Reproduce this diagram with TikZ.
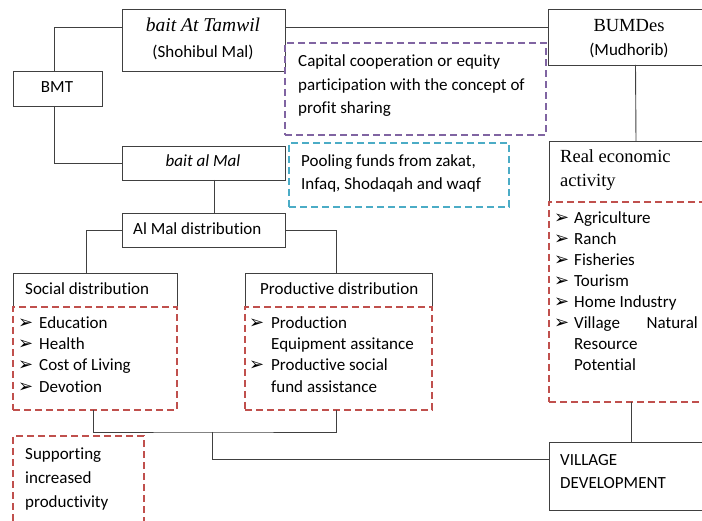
\documentclass[tikz,border=0pt]{standalone}
\usepackage{fontspec}
\setmainfont{Carlito}[Ligatures=NoCommon]
\newfontfamily\tnr{Liberation Serif}
\newfontfamily\djv{DejaVu Sans}
\definecolor{lnc}{RGB}{64,64,64}
\definecolor{dred}{RGB}{192,80,77}
\definecolor{dpur}{RGB}{128,100,162}
\definecolor{dcyan}{RGB}{75,172,198}
\begin{document}
\begin{tikzpicture}[x=1pt,y=-1pt,
  box/.style={draw=lnc,line width=0.9pt,rectangle,inner sep=0pt,outer sep=0pt,anchor=north west},
  frame/.style={rectangle,inner sep=0pt,outer sep=0pt,anchor=north west},
  dbox/.style={line width=1.4pt,dash pattern=on 7pt off 4pt,rectangle,inner sep=0pt,outer sep=0pt,anchor=north west},
  conn/.style={draw=lnc,line width=0.9pt},
  txt/.style={inner sep=0pt,anchor=base west,font=\fontsize{17}{20}\selectfont},
  ctxt/.style={inner sep=0pt,anchor=base,font=\fontsize{17}{20}\selectfont},
  serif/.style={inner sep=0pt,font=\tnr\fontsize{18.5}{22}\selectfont},
  bul/.style={inner sep=0pt,anchor=base west,font=\djv\bfseries\fontsize{18}{20}\selectfont}]
\useasboundingbox (0,0) rectangle (702,521);
\clip (0,0) rectangle (702,521);
% boxes
\node[box,minimum width=163,minimum height=62] (tamwil) at (122,9) {};
\node[box,minimum width=89,minimum height=35] (bmt) at (13,71) {};
\node[box,minimum width=163,minimum height=34] (baitalmal) at (122,146) {};
\node[box,minimum width=163,minimum height=34] (almal) at (122,213) {};
\node[dbox,draw=dpur,minimum width=261,minimum height=92] (purple) at (285,43) {};
\node[dbox,draw=dcyan,minimum width=220,minimum height=64] (cyan) at (289,143) {};
\node[box,minimum width=160,minimum height=56] (bumdes) at (548,9) {};
\node[frame,minimum width=160,minimum height=61] (real) at (549,141) {};
\draw[conn] (real.south west) -- (real.north west) -- (real.north east);
\node[dbox,draw=dred,minimum width=160,minimum height=200] (reallist) at (549,202) {};
\node[frame,minimum width=164,minimum height=34] (social) at (13,273) {};
\draw[conn] (social.south west) -- (social.north west) -- (social.north east) -- (social.south east);
\node[dbox,draw=dred,minimum width=164,minimum height=103] (soclist) at (13,307) {};
\node[frame,minimum width=187,minimum height=34] (prod) at (245,273) {};
\draw[conn] (prod.south west) -- (prod.north west) -- (prod.north east) -- (prod.south east);
\node[dbox,draw=dred,minimum width=187,minimum height=103] (prodlist) at (245,307) {};
\node[dbox,draw=dred,minimum width=131,minimum height=100] (support) at (13,436) {};
\node[box,minimum width=160,minimum height=68] (village) at (549,442) {};
% texts
\node[serif,anchor=base,font=\tnr\fontsize{19.5}{22}\selectfont] (tTamwil) at (203,32) {\itshape bait At Tamwil};
\node[ctxt] (tShohibul) at (203,58) {(Shohibul Mal)};
\node[ctxt] (tBMT) at (57,93) {BMT};
\node[ctxt] (tBaitMal) at (203,167) {\itshape bait al Mal};
\node[txt] (tAlMal) at (133,235) {Al Mal distribution};
\node[txt] (tCap1) at (298,67) {\makebox[202pt][s]{Capital cooperation or equity}};
\node[txt] (tCap2) at (298,91) {participation with the concept of};
\node[txt] (tCap3) at (298,114) {profit sharing};
\node[txt] (tPool1) at (301,167) {Pooling funds from zakat,};
\node[txt] (tPool2) at (301,190) {Infaq, Shodaqah and waqf};
\node[serif,anchor=base] (tBUMDes) at (629,32) {BUMDes};
\node[ctxt] (tMudhorib) at (629,56) {(Mudhorib)};
\node[serif,anchor=base west] (tReal1) at (560,163) {Real economic};
\node[serif,anchor=base west] (tReal2) at (560,187) {activity};
\foreach \t [count=\i] in {Agriculture,Ranch,Fisheries,Tourism,Home Industry,Village}{
  \node[bul] (rb\i) at (554,{224+21*(\i-1)}) {➢};
  \node[txt] (rt\i) at (574,{224+21*(\i-1)}) {\t};
}
\node[inner sep=0pt,anchor=base east,font=\fontsize{17}{20}\selectfont] (rt6b) at (698,329) {Natural};
\node[txt] (rt7) at (574,350) {Resource};
\node[txt] (rt8) at (574,371) {Potential};
\node[txt] (tSocial) at (25,295) {Social distribution};
\foreach \t [count=\i] in {Education,Health,Cost of Living,Devotion}{
  \node[bul] (sb\i) at (18,{329+21*(\i-1)}) {➢};
  \node[txt] (st\i) at (39,{329+21*(\i-1)}) {\t};
}
\node[txt] (tProd) at (260,295) {Productive distribution};
\node[bul] (pb1) at (249,329) {➢};
\node[txt] (pt1) at (271,329) {Production};
\node[txt] (pt2) at (271,350) {Equipment assitance};
\node[bul] (pb3) at (249,371) {➢};
\node[txt] (pt3) at (271,371) {Productive social};
\node[txt] (pt4) at (271,392) {fund assistance};
\node[txt] (tSup1) at (25,459) {Supporting};
\node[txt] (tSup2) at (25,483) {increased};
\node[txt] (tSup3) at (25,507) {productivity};
\node[txt] (tVil1) at (560,465) {VILLAGE};
\node[txt] (tVil2) at (560,488) {DEVELOPMENT};
% connectors
\draw[conn] ([xshift=-3.5pt]bmt.north) |- ([yshift=13pt]tamwil.west);
\draw[conn] ([xshift=-3.5pt]bmt.south) |- (baitalmal.west);
\draw[conn] ([yshift=13pt]tamwil.east) -- ([yshift=10pt]bumdes.west);
\draw[conn] ([xshift=10.5pt]baitalmal.south) -- ([xshift=10.5pt]almal.north);
\draw[conn] (almal.west) -| ([xshift=-9pt]social.north);
\draw[conn] (almal.east) -| ([xshift=-2.5pt]prod.north);
\draw[conn] ([xshift=7.5pt]bumdes.south) -- ([xshift=7pt]real.north);
\coordinate (j1) at (212,432);
\draw[conn] ([xshift=-2pt]soclist.south) |- (j1) -| ([xshift=-2.5pt]prodlist.south);
\draw[conn] (j1) |- ([yshift=17pt]village.west);
\draw[conn] ([xshift=2pt]reallist.south) -- ([xshift=2pt]village.north);
\end{tikzpicture}
\end{document}
